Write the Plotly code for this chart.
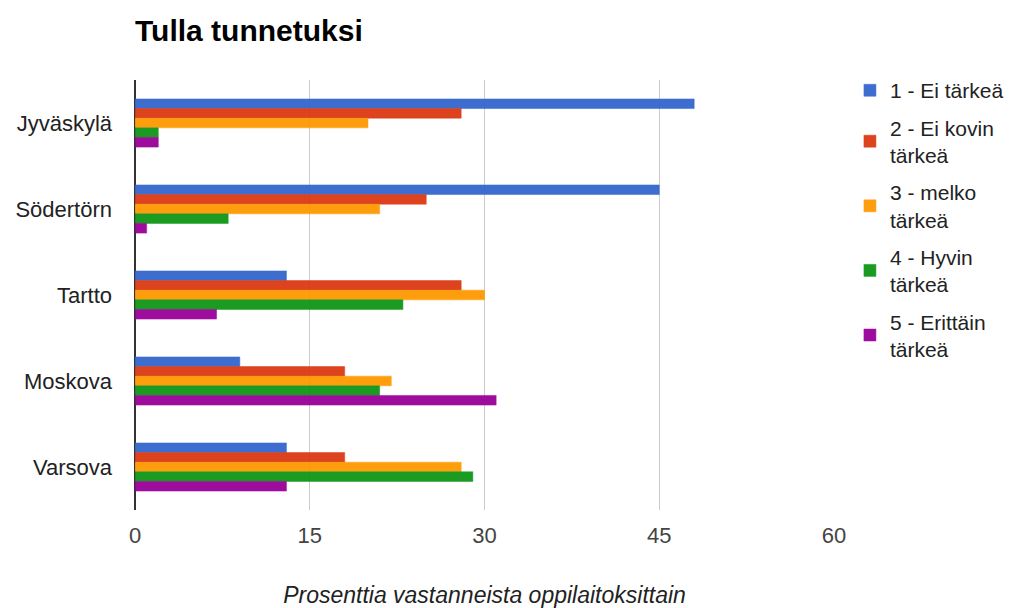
import plotly.graph_objects as go

# Oppilaitokset (kategoriat) ja vastausluokat
kaupungit = ["Jyväskylä", "Södertörn", "Tartto", "Moskova", "Varsova"]
sarjat = ["1 - Ei tärkeä", "2 - Ei kovin<br>tärkeä", "3 - melko<br>tärkeä",
          "4 - Hyvin<br>tärkeä", "5 - Erittäin<br>tärkeä"]
varit = ["#3366cc", "#dc3912", "#ff9900", "#109618", "#990099"]

# Prosenttiosuudet, yksi lista per vastausluokka
ei_tarkea = [48, 45, 13, 9, 13]
ei_kovin_tarkea = [28, 25, 28, 18, 18]
melko_tarkea = [20, 21, 30, 22, 28]
hyvin_tarkea = [2, 8, 23, 21, 29]
erittain_tarkea = [2, 1, 7, 31, 13]

arvot = [ei_tarkea, ei_kovin_tarkea, melko_tarkea, hyvin_tarkea, erittain_tarkea]
x_tikit = [0, 15, 30, 45, 60]

# sivun oletusmarginaali (8px) huomioitu mitoissa
fig = go.Figure()
for i, (nimi, vari, data) in enumerate(zip(sarjat, varit, arvot)):
    fig.add_trace(go.Bar(
        y=kaupungit, x=data, name=nimi, orientation="h",
        legendgroup=f"g{i}",
        marker=dict(color=vari, line=dict(color=vari, width=0.5)),
        opacity=0.95,
    ))

fig.update_layout(
    width=1013, height=600,
    margin=dict(l=127, r=185, t=72, b=98),
    paper_bgcolor="white", plot_bgcolor="white",
    font=dict(family="Liberation Sans, Arial", color="#222222", size=22),
    barmode="group", bargap=0.44, bargroupgap=0.0,
    title=dict(text="<b>Tulla tunnetuksi</b>", x=127 / 1013, xanchor="left",
               y=1 - 22 / 600, yanchor="middle",
               font=dict(size=30, color="#000000")),
    legend=dict(x=1.0228, xanchor="left", y=1.023, yanchor="top",
                font=dict(size=21, color="#222222"),
                traceorder="grouped", itemwidth=30,
                tracegroupgap=7),
    showlegend=True,
)

fig.update_xaxes(
    range=[0, 60], tickvals=x_tikit, showgrid=True, gridcolor="#cccccc",
    gridwidth=1, zeroline=True, zerolinecolor="#333333", zerolinewidth=2,
    showline=False, ticks="", tickfont=dict(size=22, color="#444444"),
    ticklabelstandoff=10, automargin=False,
    title=dict(text="<i>Prosenttia vastanneista oppilaitoksittain</i>",
               font=dict(size=23, color="#222222"), standoff=44),
)
fig.update_yaxes(
    autorange="reversed", showgrid=False, showline=False, ticks="",
    tickfont=dict(size=22, color="#222222"), ticklabelstandoff=22,
    automargin=False,
)

fig.write_html("out.html")
